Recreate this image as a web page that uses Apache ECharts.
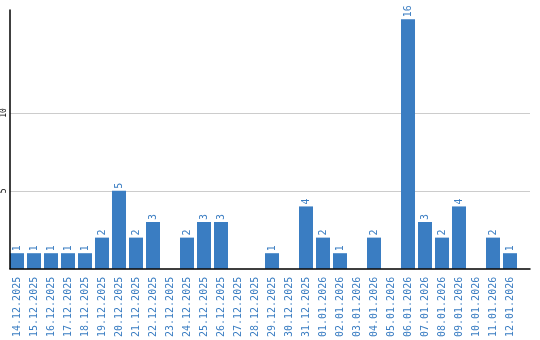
<!DOCTYPE html>
<html><head><meta charset="utf-8">
<script src="https://cdn.jsdelivr.net/npm/echarts@6/dist/echarts.min.js"></script>
<style>html,body{margin:0;padding:0;background:#fff}#c{width:540px;height:340px}</style>
</head><body><div id="c"></div>
<script>
var categories = ["14.12.2025","15.12.2025","16.12.2025","17.12.2025","18.12.2025","19.12.2025","20.12.2025","21.12.2025","22.12.2025","23.12.2025","24.12.2025","25.12.2025","26.12.2025","27.12.2025","28.12.2025","29.12.2025","30.12.2025","31.12.2025","01.01.2026","02.01.2026","03.01.2026","04.01.2026","05.01.2026","06.01.2026","07.01.2026","08.01.2026","09.01.2026","10.01.2026","11.01.2026","12.01.2026"];
var values = [1,1,1,1,1,2,5,2,3,0,2,3,3,0,0,1,0,4,2,1,0,2,0,16,3,2,4,0,2,1];
var yTickLabels = [5, 10];
var yMax = 16.6;

var blue = '#3a7dc2';
var chart = echarts.init(document.getElementById('c'), null, {renderer:'canvas'});
chart.setOption({
  animation: false,
  grid: [
    {left: 8.5, top: 10, bottom: 71, width: 510, containLabel: false},
    {left: 10, top: 10, bottom: 71, right: 10, containLabel: false}
  ],
  xAxis: [
    {type: 'category', gridIndex: 0, data: categories,
     axisLine: {show: false}, axisTick: {show: false}, splitLine: {show: false},
     axisLabel: {rotate: 90, interval: 0, margin: 8, color: blue,
       fontFamily: 'DejaVu Sans Mono', fontSize: 10}},
    {type: 'value', gridIndex: 1, min: 0, max: 1, z: 10,
     axisLine: {show: true, onZero: false, lineStyle: {color: '#000', width: 1.5}},
     axisTick: {show: false}, axisLabel: {show: false}, splitLine: {show: false}}
  ],
  yAxis: [
    {type: 'value', gridIndex: 0, min: 0, max: yMax, interval: 5, z: 10, offset: -1.5,
     axisLine: {show: true, lineStyle: {color: '#000', width: 1.5}},
     axisTick: {show: false}, splitLine: {show: false},
     axisLabel: {rotate: 90, margin: 2, color: '#000', fontFamily: 'DejaVu Sans Mono', fontSize: 8,
       formatter: function(v){ return yTickLabels.indexOf(v) >= 0 ? String(v) : ''; }}},
    {type: 'value', gridIndex: 1, min: 0, max: yMax, show: false}
  ],
  series: [
    {type: 'line', xAxisIndex: 1, yAxisIndex: 1, data: [], silent: true, z: 0,
     markLine: {silent: true, symbol: 'none', label: {show: false}, z: 0,
       lineStyle: {color: '#cccccc', width: 1, type: 'solid'},
       data: yTickLabels.map(function(v){ return {yAxis: v}; })}},
    {type: 'bar', xAxisIndex: 0, yAxisIndex: 0, data: values, barCategoryGap: '17.6%', z: 5,
     itemStyle: {color: blue},
     label: {show: true, position: 'top', rotate: 90, align: 'left', verticalAlign: 'middle',
       distance: 2, color: blue, fontFamily: 'DejaVu Sans Mono', fontSize: 10,
       formatter: function(p){ return p.value ? String(p.value) : ''; }}}
  ]
});
</script></body></html>
